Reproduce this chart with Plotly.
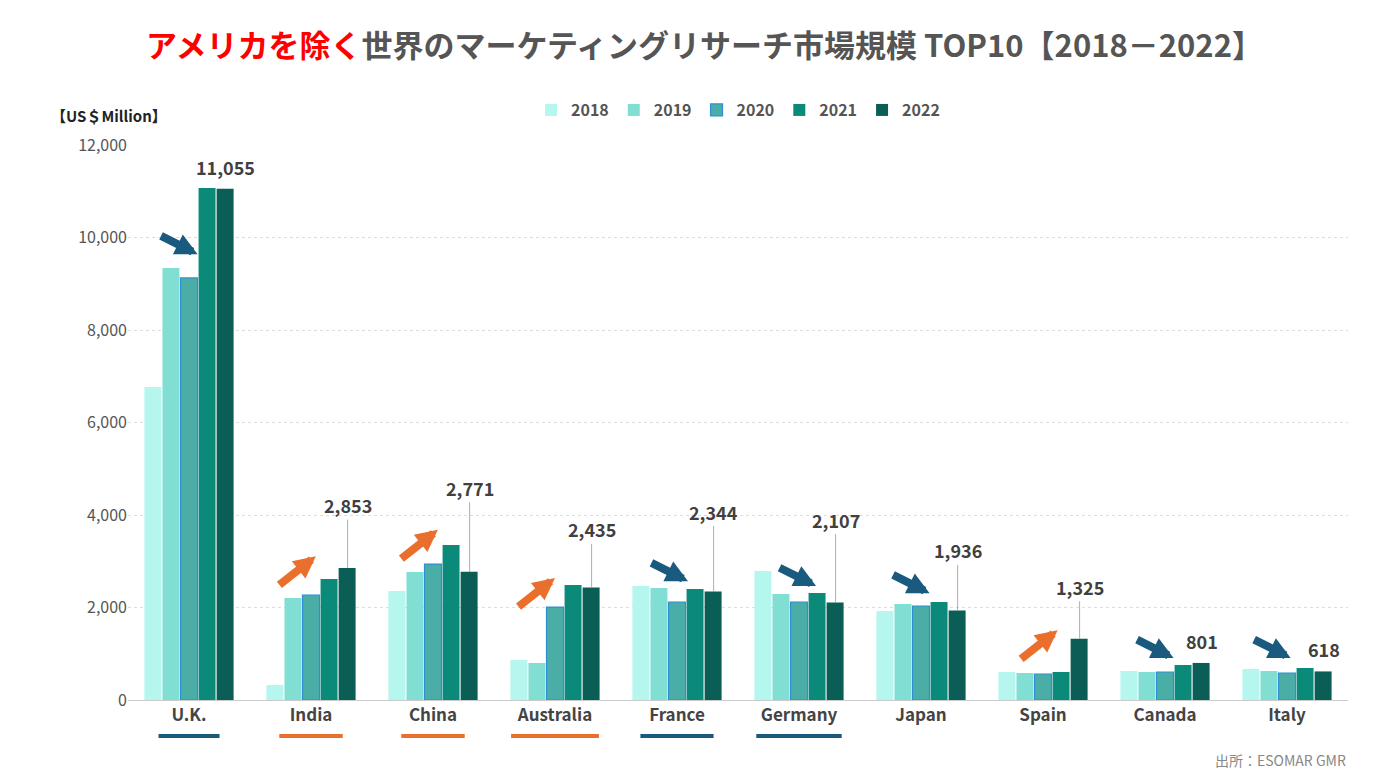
import plotly.graph_objects as go

# ---------------- Data ----------------
countries = ['U.K.', 'India', 'China', 'Australia', 'France',
             'Germany', 'Japan', 'Spain', 'Canada', 'Italy']
years = ['2018', '2019', '2020', '2021', '2022']
v2018 = [6770, 324, 2357, 865, 2465, 2789, 1924, 605, 627, 670]
v2019 = [9340, 2205, 2768, 800, 2421, 2292, 2076, 584, 605, 627]
v2020 = [9125, 2270, 2940, 2010, 2119, 2119, 2032, 562, 605, 584]
v2021 = [11070, 2616, 3351, 2486, 2400, 2313, 2119, 605, 757, 692]
v2022 = [11055, 2853, 2771, 2435, 2344, 2107, 1936, 1325, 801, 618]
trend = ['down', 'up', 'up', 'up', 'down', 'down', 'down', 'up', 'down', 'down']

colors = ['#b5f7ee', '#80ded3', '#4aaea6', '#0b8a7a', '#0a5e55']
BLUE = '#1a5a7e'
ORANGE = '#ea6f2d'

fig = go.Figure()
for yr, vals, c in zip(years, [v2018, v2019, v2020, v2021, v2022], colors):
    fig.add_trace(go.Bar(
        name=f'<b>{yr}</b>', x=list(range(len(countries))), y=vals, marker_color=c,
        marker_line=dict(color='#2f8fd6' if yr == '2020' else c,
                         width=1.2 if yr == '2020' else 0)))

# value labels for 2022 with leader lines
label_off = [-26, -53, -74, -48, -70, -73, -50, -42, -24, -24]
for i, v in enumerate(v2022):
    long_line = label_off[i] < -30
    fig.add_annotation(x=i + 0.3, y=v, text=f'<b>{v:,}</b>',
                       ax=0, ay=label_off[i] - 10, showarrow=long_line,
                       arrowhead=0, arrowwidth=0.8, arrowcolor='#999999',
                       yshift=0 if long_line else 22,
                       font=dict(size=18, color='#404040'))

# trend arrows
heads_x = [0.07, 1.04, 2.04, 3.0, 4.09, 5.14, 6.07, 7.12, 8.07, 9.03]
heads_y = [9640, 3110, 3680, 2640, 2570, 2465, 2310, 1510, 910, 910]
for hx, hy, t in zip(heads_x, heads_y, trend):
    fig.add_annotation(x=hx, y=hy, ax=-38, ay=30 if t == 'up' else -19, text='',
                       showarrow=True, arrowhead=2, arrowsize=0.55, arrowwidth=8,
                       arrowcolor=ORANGE if t == 'up' else BLUE)

# underlines under category labels
half = [0.25, 0.26, 0.26, 0.36, 0.30, 0.35]
for i, h in enumerate(half):
    fig.add_shape(type='line', xref='x', yref='paper', x0=i - h, x1=i + h,
                  y0=-0.065, y1=-0.065,
                  line=dict(color=ORANGE if trend[i] == 'up' else BLUE, width=4))

fig.add_annotation(xref='paper', yref='paper', x=-0.065, y=1.075, xanchor='left',
                   text='<b>【US＄Million】</b>', showarrow=False,
                   font=dict(size=15, color='#222222'))
fig.add_annotation(xref='paper', yref='paper', x=1, y=-0.13, xanchor='right',
                   text='出所：ESOMAR GMR', showarrow=False,
                   font=dict(size=14, color='#888888'))

fig.update_layout(
    width=1393, height=779,
    title=dict(text='<b><span style="color:#ff0000">アメリカを除く</span>世界のマーケティングリサーチ市場規模 TOP10【2018－2022】</b>',
               x=0.5, xanchor='center', y=0.951, yanchor='middle',
               font=dict(size=31, color='#555555')),
    font=dict(family='Noto Sans CJK JP', color='#555555'),
    barmode='group', bargap=0.26, bargroupgap=0.06,
    plot_bgcolor='white', paper_bgcolor='white',
    margin=dict(l=120, r=53, t=137, b=87, autoexpand=False),
    legend=dict(orientation='h', x=0.5, xanchor='center', y=1.063, yanchor='middle',
                font=dict(size=16, color='#555555'), traceorder='normal'),
    showlegend=True,
)
fig.update_xaxes(tickvals=list(range(len(countries))), ticktext=[f'<b>{c}</b>' for c in countries],
                 tickfont=dict(size=17, color='#444444'), showline=True,
                 linecolor='#cccccc', range=[-0.5, 9.5], automargin=False)
fig.update_yaxes(range=[0, 12000], dtick=2000, tickformat=',', gridcolor='#dddddd',
                 griddash='dot', tickfont=dict(size=16, color='#555555'),
                 zeroline=False, automargin=False)

fig.write_html('out.html')
